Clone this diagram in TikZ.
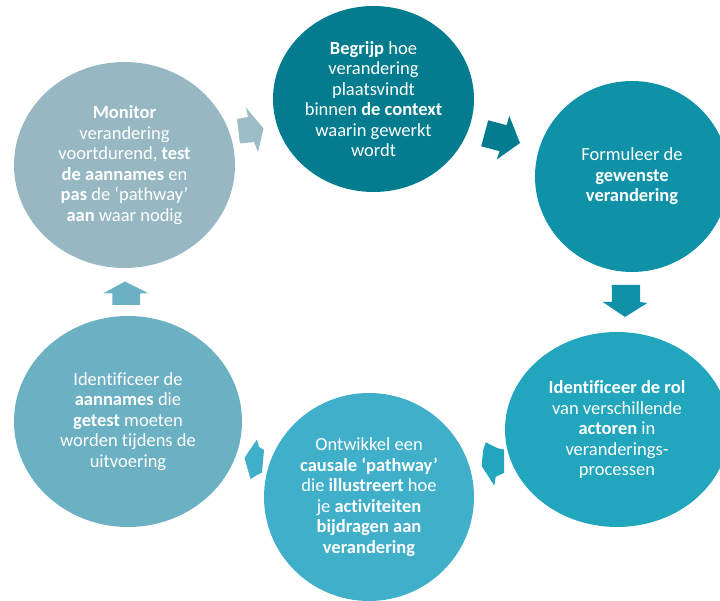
\documentclass[tikz,border=0pt]{standalone}
\usepackage{fontspec}
\setmainfont{Carlito}[Ligatures={NoCommon}]
\usetikzlibrary{shapes.geometric}
\definecolor{cMon}{HTML}{97B8C2}
\definecolor{cBeg}{HTML}{027C8E}
\definecolor{cFor}{HTML}{0F92A7}
\definecolor{cRol}{HTML}{22A6BE}
\definecolor{cOnt}{HTML}{40AFCA}
\definecolor{cAan}{HTML}{6CB0C3}
\definecolor{aMon}{HTML}{9DBDC6}
\begin{document}
\begin{tikzpicture}[x=1pt,y=-1pt,
  bub/.style={ellipse, inner sep=0pt, text=white, align=center,
    font=\fontsize{18.5}{20.5}\selectfont},
  barrow/.style={line join=miter}]
\useasboundingbox (0,0) rectangle (720,601);
\clip (0,0) rectangle (720,601);
% block arrows
\fill[barrow, aMon] (237,119) -- (248,117) -- (246,107.5) -- (263.5,128.5) -- (258,152) -- (254,142) -- (240,143.5) -- cycle;
\fill[barrow, cBeg] (488.2,120.3) -- (506.6,125.2) -- (509.3,116) -- (520,143) -- (496.7,159.5) -- (499.6,151.2) -- (481.2,146.3) -- cycle;
\fill[barrow, cFor] (611.7,285) -- (640,285) -- (640,302) -- (647.3,303) -- (625,317) -- (602.7,302) -- (612,302) -- cycle;
\fill[barrow, cRol] (485.7,442.3) -- (497.7,448.3) -- (504,449.5) -- (504,473) -- (495.7,476.7) -- (494.3,485.7) -- (481.7,466) -- (483,451) -- cycle;
\fill[barrow, cOnt] (257,439.5) -- (259,447) -- (264,450) -- (262,472.5) -- (257,475) -- (250.5,479) -- (244.5,458) -- (249,451) -- cycle;
\fill[barrow, cAan] (125,281.5) -- (148.3,293.3) -- (140,293.3) -- (140,305) -- (112.3,305) -- (112.3,293.3) -- (103.3,293.3) -- cycle;
% circles
\node[bub, fill=cMon, minimum width=221pt, minimum height=206pt] (monitor) at (124.5,165)
  {\textbf{Monitor}\\verandering\\voortdurend, \textbf{test}\\\textbf{de aannames} en\\\textbf{pas} de ‘pathway’\\\textbf{aan} waar nodig};
\node[bub, fill=cBeg, minimum width=201pt, minimum height=186pt] (begrijp) at (373.5,99)
  {\textbf{Begrijp} hoe\\verandering\\plaatsvindt\\binnen \textbf{de context}\\waarin gewerkt\\wordt};
\node[bub, fill=cFor, minimum width=194pt, minimum height=191pt] (formuleer) at (632,176.5)
  {Formuleer de\\\textbf{gewenste}\\\textbf{verandering}};
\node[bub, fill=cRol, minimum width=224pt, minimum height=195pt] (rol) at (617,429.5)
  {\textbf{Identificeer de rol}\\van verschillende\\\textbf{actoren} in\\veranderings-\\processen};
\node[bub, fill=cOnt, minimum width=210pt, minimum height=208pt] (ontwikkel) at (369,497)
  {Ontwikkel een\\\textbf{causale ‘pathway’}\\die \textbf{illustreert} hoe\\je \textbf{activiteiten}\\\textbf{bijdragen aan}\\\textbf{verandering}};
\node[bub, fill=cAan, minimum width=228pt, minimum height=211pt] (aannames) at (128,421.5)
  {Identificeer de\\\textbf{aannames} die\\\textbf{getest} moeten\\worden tijdens de\\uitvoering};
\end{tikzpicture}
\end{document}
